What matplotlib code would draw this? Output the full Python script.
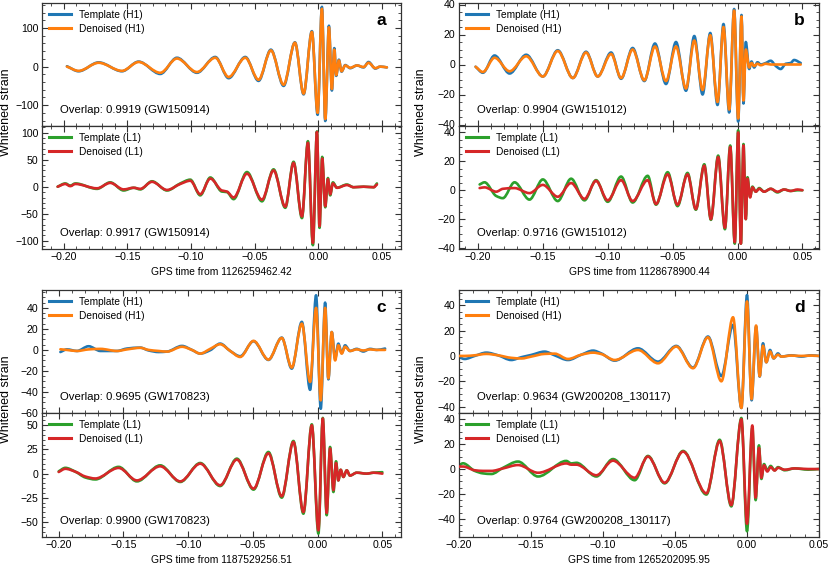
import matplotlib
matplotlib.use("Agg")
import matplotlib.pyplot as plt
from matplotlib.path import Path
from matplotlib.patches import PathPatch
from matplotlib.lines import Line2D
from matplotlib.ticker import MultipleLocator, AutoMinorLocator
import numpy as np

plt.rcParams['font.family'] = ['Liberation Sans', 'DejaVu Sans']

# ---------------- data (extrema) ----------------
# Panel a (GW150914)
a_h1_t = [-0.1974, -0.1882, -0.1725, -0.1542, -0.1411, -0.1241, -0.1110, -0.0953, -0.0809, -0.0704,
          -0.0573, -0.0469, -0.0372, -0.0272, -0.0183, -0.0115, -0.0050, -0.0005, 0.0029, 0.0055,
          0.0084, 0.0107, 0.0126, 0.0141, 0.0162, 0.0183, 0.0212, 0.0251, 0.0304, 0.0356,
          0.0395, 0.0448, 0.0487, 0.0539]
a_h1_tmpl = [1, -12, 11, -12, 13, -19, 23, -16, 25, -30, 25, -37, 44, -50, 63, -72, 92, -125, 155, -141,
             106, -62, 48, -24, 18, -13, 4, -4, 3, -2, 12, -5, 0, -2]
a_h1_den = [0, -11, 10, -11, 12, -16, 21, -14, 23, -27, 23, -34, 42, -47, 62, -70, 90, -120, 150, -136,
            102, -58, 44, -22, 16, -12, 3, -3, 3, -1, 10, -4, 0, -2]

a_l1_t = [-0.2047, -0.1987, -0.1948, -0.1908, -0.1738, -0.1634, -0.1529, -0.1450, -0.1398, -0.1306,
          -0.1188, -0.1084, -0.1005, -0.0927, -0.0848, -0.0757, -0.0717, -0.0665, -0.0560, -0.0442,
          -0.0351, -0.0259, -0.0194, -0.0128, -0.0081, -0.0042, -0.0010, 0.0010, 0.0031, 0.0055,
          0.0076, 0.0094, 0.0115, 0.0147, 0.0225, 0.0278, 0.0356, 0.0435, 0.0461]
a_l1_tmpl = [0, 6, 2, 6, -4, 8, -7, -2, -5, 10,
             -7, 6, 13, -16, 17, -9, -10, -23, 27, -27,
             32, -39, 46, -58, 84, -108, 102, -76, 55, -38,
             16, -16, 8, -2, 4, -1, 0, -1, 6]
a_l1_den = [0, 5, 1, 5, -3, 7, -5, -2, -4, 9,
            -6, 5, 11, -14, 15, -7, -9, -20, 24, -24,
            30, -37, 44, -55, 81, -104, 101, -73, 52, -36,
            14, -14, 6, -2, 3, -1, 0, -1, 4]

# Panel b (GW151012)
b_h1_t = [-0.2018, -0.1962, -0.1872, -0.1756, -0.1628, -0.1500, -0.1385, -0.1269, -0.1167, -0.1077,
          -0.0974, -0.0897, -0.0808, -0.0718, -0.0636, -0.0551, -0.0474, -0.0397, -0.0333, -0.0269,
          -0.0210, -0.0154, -0.0108, -0.0064, -0.0026, 0.0005, 0.0031, 0.0046, 0.0064, 0.0090,
          0.0108, 0.0128, 0.0154, 0.0179, 0.0218, 0.0256, 0.0295, 0.0333, 0.0372, 0.0410,
          0.0436, 0.0487]
b_h1_tmpl = [-1.5, -5.5, 6, -6, 6.5, -8, 9.5, -9, 8.5, -8,
             8, -9.5, 11, -11, 14, -13, 15, -17.5, 19, -20,
             21, -27, 27, -32, 37, -38, 33, -26, 15, -3,
             2, -2, 1.5, 0, 1, 2.5, -1, -3, 0.5, 1,
             3, 1]
b_h1_den = [-1.5, -5, 4.5, -4.5, 5.5, -8, 9, -9, 8, -8,
            7, -9, 10, -10.5, 12, -11, 12, -16, 16, -17,
            19.5, -25, 25, -30, 36, -36, 32, -24, 10, -2,
            1, -1, 0.5, -0.5, 0.5, 0, 0, 0, 0, 0,
            0, 0]

b_l1_t = [-0.1987, -0.1949, -0.1859, -0.1808, -0.1718, -0.1603, -0.1500, -0.1385, -0.1282, -0.1179,
          -0.1090, -0.1000, -0.0897, -0.0808, -0.0692, -0.0628, -0.0538, -0.0462, -0.0385, -0.0321,
          -0.0256, -0.0205, -0.0149, -0.0097, -0.0056, -0.0021, 0.0005, 0.0026, 0.0046, 0.0064,
          0.0077, 0.0097, 0.0115, 0.0141, 0.0167, 0.0205, 0.0256, 0.0308, 0.0359, 0.0410,
          0.0462, 0.0500]
b_l1_tmpl = [4, 5.5, -4, -5.5, 5.5, -6.5, 7.5, -7.5, 8, -7,
             7, -8, 9.5, -8.5, 10, -10, 12.5, -11, 12, -13.5,
             18, -20.5, 24, -27, 31, -37, 41.5, -37, 32, -20,
             9, -4.5, 2.5, -1, 1.5, -1, 1, -1.5, 0.5, -0.5,
             0, 0]
b_l1_den = [1.5, 2, -1, 1, 1.5, -2, 3.7, -4.5, 5, -6,
            6.5, -7, 7, -7.5, 7, -9.5, 11, -10, 11, -13,
            17, -20, 23, -26, 30, -36, 40, -37, 31, -20,
            8, -5, 2, -1, 1, -1, 1, -1, 0.5, -0.5,
            0.5, 0]

# Panel c (GW170823)
c_h1_t = [-0.1987, -0.1936, -0.1859, -0.1769, -0.1678, -0.1550, -0.1473, -0.1370, -0.1306, -0.1228,
          -0.1164, -0.1048, -0.0971, -0.0907, -0.0830, -0.0753, -0.0675, -0.0598, -0.0495, -0.0380,
          -0.0277, -0.0200, -0.0122, -0.0058, -0.0012, 0.0024, 0.0058, 0.0083, 0.0109, 0.0135,
          0.0160, 0.0186, 0.0212, 0.0250, 0.0302, 0.0353, 0.0405, 0.0456, 0.0521]
c_h1_tmpl = [-2, 0.5, -1, 3.5, -1, -1, 1.3, 2.2, -0.5, -2,
             -1.6, 3.8, 0, -3.5, -0.3, 6, -1, -6, 8.3, -9.5,
             11.7, -17.8, 26.7, -38, 52, -56, 45, -28, 17, -8,
             6, -3, 4.4, -1, 1, -1.5, 1, 0, 1.3]
c_h1_den = [0.6, 0, -1, 0.5, 1, -1, 0.5, 2, 0, -1,
            -1.6, 3, 0, -3.5, 1, 5.4, -1, -6.7, 8.6, -9.2,
            11.4, -16.8, 25, -30.5, 40, -48, 40, -27, 17, -10,
            4.4, -3.5, 3, -1, 0.5, -0.5, 0.5, 0, 0]

c_l1_t = [-0.2000, -0.1949, -0.1871, -0.1794, -0.1717, -0.1537, -0.1396, -0.1216, -0.1061, -0.0907,
          -0.0753, -0.0624, -0.0495, -0.0380, -0.0277, -0.0187, -0.0110, -0.0045, 0.0006, 0.0040,
          0.0070, 0.0096, 0.0122, 0.0142, 0.0160, 0.0178, 0.0199, 0.0225, 0.0250, 0.0302,
          0.0379, 0.0431, 0.0500]
c_l1_tmpl = [2.4, 6, 2, -4, -6, 7, -8, 8.6, -8.6, 11,
             -12.8, 15.5, -16.5, 22.4, -24.8, 33.8, -41.4, 51, -62, 57.6,
             -43, 27.6, -19, 12.8, -7, 4, -3.4, 3.4, -2, 1,
             0, 1, 1.5]
c_l1_den = [1.7, 5, 2, -3, -5, 5.9, -7, 7.6, -8, 10.3,
            -12, 14.5, -15.5, 21, -23.4, 32.8, -39.7, 50, -58.6, 57,
            -40.7, 26, -17, 11, -7, 4, -3.4, 3.4, -2, 1,
            0, 1, 0]

# Panel d (GW200208_130117)
d_h1_t = [-0.2000, -0.1961, -0.1891, -0.1810, -0.1729, -0.1637, -0.1567, -0.1498, -0.1405, -0.1336,
          -0.1243, -0.1150, -0.1069, -0.1012, -0.0919, -0.0757, -0.0618, -0.0491, -0.0375, -0.0271,
          -0.0178, -0.0097, -0.0039, 0.0000, 0.0032, 0.0063, 0.0088, 0.0111, 0.0134, 0.0160,
          0.0185, 0.0215, 0.0238, 0.0308, 0.0377, 0.0447, 0.0500]
d_h1_tmpl = [-1, -2.4, 0, 2.6, 0.5, -3.2, -1, 0.8, 3.4, 0.5,
             -3.2, 1, 4.2, 2, -3.7, 6, -4.5, 7.9, -9.2, 15.3,
             -15.8, 24.5, -41, 48, -35, 23, -16.3, 10, -5, 4.7,
             -2, 2, -0.5, 0.5, -0.5, 0.5, 0]
d_h1_den = [0, 0, 0.5, 1.6, 0.5, -1.5, -2, -0.5, 1.6, 1.8,
            -2.4, 1, 2.6, 1.5, -3.2, 4.7, -5.8, 7.4, -9.7, 14.7,
            -20, 30.5, -41, 43, -34, 24, -16, 8, -5, 3.5,
            -1.8, 1, -0.5, 0.3, 0, 0.3, 0]

d_l1_t = [-0.2000, -0.1972, -0.1891, -0.1833, -0.1775, -0.1694, -0.1590, -0.1451, -0.1255, -0.1220,
          -0.1185, -0.1046, -0.0931, -0.0780, -0.0688, -0.0572, -0.0444, -0.0282, -0.0190, -0.0109,
          -0.0039, 0.0000, 0.0037, 0.0060, 0.0083, 0.0100, 0.0118, 0.0141, 0.0164, 0.0192,
          0.0215, 0.0262, 0.0331, 0.0424, 0.0500]
d_l1_tmpl = [3, 4.6, -1.5, -3.5, -4, 1, 6, -6, 6.5, 4.5,
             5, -6, 8, -9, 10.5, -11.5, 14.5, -20.5, 23.5, -30,
             41, -50, 33, -25, 19, -8, 4, -1, 2.5, -1,
             1.5, -1, 0.5, -0.5, 0]
d_l1_den = [2, 2, -1, -1.5, -1.5, 0.5, 3.2, -3, 4.5, 3.5,
            3.5, -5, 6.7, -7, 10, -11, 14, -19.5, 22.5, -29,
            40, -44, 35, -23, 17, -7, 3, -2, 1.5, -1.2,
            1, -0.5, 0.5, 0, 0]

panel_letters = ['a', 'b', 'c', 'd']
gps_refs = ['1126259462.42', '1128678900.44', '1187529256.51', '1265202095.95']
overlaps_h1 = ['0.9919 (GW150914)', '0.9904 (GW151012)', '0.9695 (GW170823)', '0.9634 (GW200208_130117)']
overlaps_l1 = ['0.9917 (GW150914)', '0.9716 (GW151012)', '0.9900 (GW170823)', '0.9764 (GW200208_130117)']
x_ticks = [-0.20, -0.15, -0.10, -0.05, 0.00, 0.05]

# ---------------- drawing ----------------
C_TMPL_H1, C_DEN_H1 = '#1f77b4', '#ff7f0e'
C_TMPL_L1, C_DEN_L1 = '#2ca02c', '#d62728'
LW = 1.9


def slopes(t, y):
    t = np.asarray(t, float); y = np.asarray(y, float)
    n = len(t)
    h = np.diff(t); d = np.diff(y) / h
    m = np.zeros(n)
    m[0] = d[0]; m[-1] = d[-1]
    for i in range(1, n - 1):
        if d[i - 1] * d[i] <= 0:
            m[i] = 0.0
        else:
            w1 = 2 * h[i] + h[i - 1]
            w2 = h[i] + 2 * h[i - 1]
            m[i] = (w1 + w2) / (w1 / d[i - 1] + w2 / d[i])
    return m


def smooth_curve(ax, t, y, color, lw=LW, z=2):
    t = np.asarray(t, float); y = np.asarray(y, float)
    m = slopes(t, y)
    verts = [(t[0], y[0])]
    codes = [Path.MOVETO]
    for i in range(len(t) - 1):
        h = t[i + 1] - t[i]
        verts += [(t[i] + h / 3, y[i] + m[i] * h / 3),
                  (t[i + 1] - h / 3, y[i + 1] - m[i + 1] * h / 3),
                  (t[i + 1], y[i + 1])]
        codes += [Path.CURVE4] * 3
    patch = PathPatch(Path(verts, codes), fill=False, edgecolor=color, lw=lw,
                      capstyle='round', joinstyle='round', zorder=z)
    ax.add_patch(patch)


W, H = 830, 566
fig = plt.figure(figsize=(W / 100, H / 100), dpi=100)

col_x = [42, 459]
col_w = [359, 360]
rows = [(3, 126, 249), (290, 413, 537)]

panels = [
    (a_h1_t, a_h1_tmpl, a_h1_den, a_l1_t, a_l1_tmpl, a_l1_den,
     (-154, 165), 100, (-115, 112), 50, (-0.217, 0.065)),
    (b_h1_t, b_h1_tmpl, b_h1_den, b_l1_t, b_l1_tmpl, b_l1_den,
     (-41, 41), 20, (-40.7, 44.5), 20, (-0.2146, 0.0628)),
    (c_h1_t, c_h1_tmpl, c_h1_den, c_l1_t, c_l1_tmpl, c_l1_den,
     (-60, 57), 20, (-65.5, 62.7), 25, (-0.2129, 0.0644)),
    (d_h1_t, d_h1_tmpl, d_h1_den, d_l1_t, d_l1_tmpl, d_l1_den,
     (-45, 52), 20, (-54.6, 45), 20, (-0.2, 0.05)),
]

SPINE = '#333333'
TICK_FS = 7.6


def style_axis(ax, ymaj, xlim, ylim, show_xlabels):
    ax.set_xlim(*xlim)
    ax.set_ylim(*ylim)
    ax.set_xticks(x_ticks)
    ax.xaxis.set_minor_locator(AutoMinorLocator())
    ax.yaxis.set_major_locator(MultipleLocator(ymaj))
    ax.yaxis.set_minor_locator(AutoMinorLocator())
    ax.tick_params(which='both', direction='in', top=True, right=True,
                   color=SPINE, labelsize=TICK_FS, pad=2.5)
    ax.tick_params(which='major', length=4, width=0.8)
    ax.tick_params(which='minor', length=2, width=0.6)
    ax.tick_params(axis='x', labelbottom=show_xlabels)
    for s in ax.spines.values():
        s.set_color(SPINE)
        s.set_linewidth(0.9)


for k, p in enumerate(panels):
    (h_t, h_tm, h_dn, l_t, l_tm, l_dn, ylim_h, ymaj_h, ylim_l, ymaj_l, xlim) = p
    ci, ri = k % 2, k // 2
    x0 = col_x[ci] / W
    w = col_w[ci] / W
    top, mid, bot = rows[ri]
    ax_h = fig.add_axes([x0, 1 - mid / H, w, (mid - top) / H])
    ax_l = fig.add_axes([x0, 1 - bot / H, w, (bot - mid) / H])

    smooth_curve(ax_h, h_t, h_tm, C_TMPL_H1, z=2)
    smooth_curve(ax_h, h_t, h_dn, C_DEN_H1, z=3)
    smooth_curve(ax_l, l_t, l_tm, C_TMPL_L1, z=2)
    smooth_curve(ax_l, l_t, l_dn, C_DEN_L1, z=3)

    style_axis(ax_h, ymaj_h, xlim, ylim_h, False)
    style_axis(ax_l, ymaj_l, xlim, ylim_l, True)

    leg_kw = dict(loc='upper left', frameon=False, fontsize=7.3, handlelength=2.2,
                  handletextpad=0.8, labelspacing=0.42, borderaxespad=0.35, borderpad=0.3)
    ax_h.legend(handles=[Line2D([], [], color=C_TMPL_H1, lw=2.2, label='Template (H1)'),
                         Line2D([], [], color=C_DEN_H1, lw=2.2, label='Denoised (H1)')], **leg_kw)
    ax_l.legend(handles=[Line2D([], [], color=C_TMPL_L1, lw=2.2, label='Template (L1)'),
                         Line2D([], [], color=C_DEN_L1, lw=2.2, label='Denoised (L1)')], **leg_kw)

    ax_h.text(0.05, 0.13, 'Overlap: ' + overlaps_h1[k], transform=ax_h.transAxes,
              fontsize=8.2, ha='left', va='center')
    ax_l.text(0.05, 0.13, 'Overlap: ' + overlaps_l1[k], transform=ax_l.transAxes,
              fontsize=8.2, ha='left', va='center')
    ax_h.text(0.945, 0.86, panel_letters[k], transform=ax_h.transAxes,
              fontsize=12.5, fontweight='bold', ha='center', va='center')

    ax_l.set_xlabel('GPS time from ' + gps_refs[k], fontsize=7.4, labelpad=3)

    lx = (6 if ci == 0 else 421) / W
    fig.text(lx, 1 - (mid - 14) / H, 'Whitened strain', rotation=90,
             ha='center', va='center', fontsize=9)

fig.savefig('out.png', dpi=100)
